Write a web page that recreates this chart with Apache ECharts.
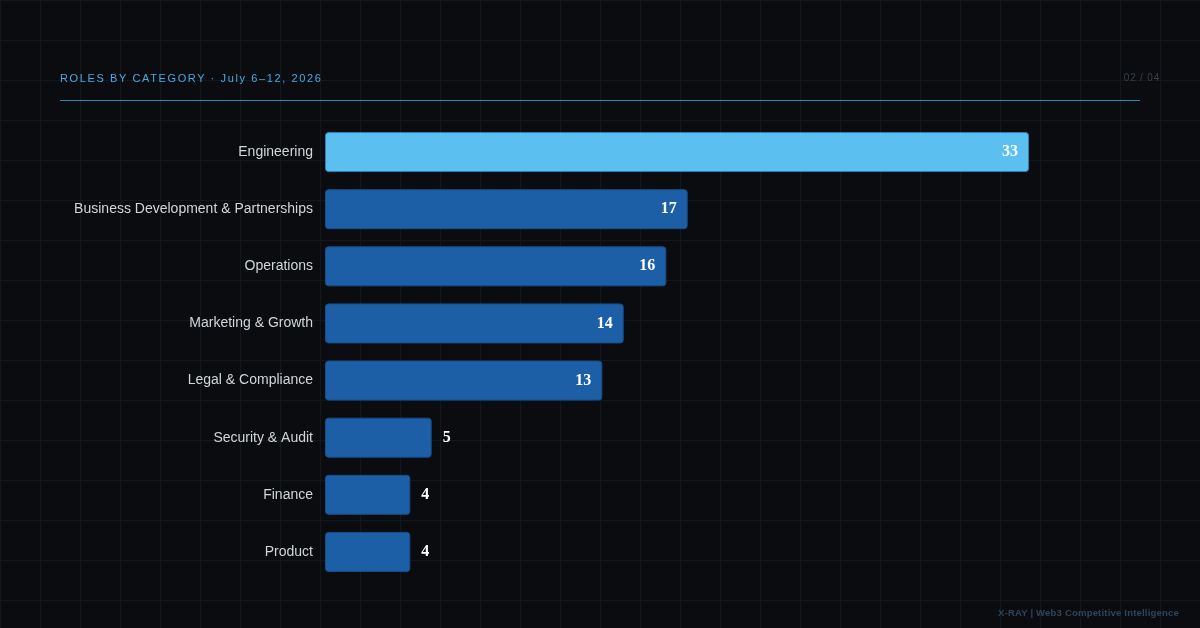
<!DOCTYPE html>
<html>
<head>
<meta charset="utf-8">
<script src="https://cdn.jsdelivr.net/npm/echarts@6/dist/echarts.min.js"></script>
<style>
  html, body { margin: 0; padding: 0; }
  body {
    width: 1200px; height: 628px; overflow: hidden;
    background-color: #0a0c0f;
    background-image:
      linear-gradient(to right, #14171b 1px, transparent 1px),
      linear-gradient(to bottom, #14171b 1px, transparent 1px);
    background-size: 40px 40px;
    background-position: 0 0;
    position: relative;
    font-family: "Liberation Sans", Arial, sans-serif;
  }
  #chart { position: absolute; left: 0; top: 0; width: 1200px; height: 628px; }
  .title { position: absolute; left: 60px; top: 72px; font-size: 11px; letter-spacing: 1.62px; color: #4aa9e2; white-space: nowrap; }
  .rule { position: absolute; left: 60px; top: 100px; width: 1080px; height: 1px; background: #2f88bd; }
  .page { position: absolute; right: 40px; top: 72px; font-size: 10px; letter-spacing: 0.8px; color: #3a4049; }
  .footer { position: absolute; right: 21px; top: 607px; font-size: 9.5px; font-weight: 600; letter-spacing: 0.2px; color: #30465c; white-space: nowrap; }
</style>
</head>
<body>
<div id="chart"></div>
<div class="title">ROLES BY CATEGORY · July 6–12, 2026</div>
<div class="rule"></div>
<div class="page">02 / 04</div>
<div class="footer">X-RAY | Web3 Competitive Intelligence</div>
<script>
const categories = ["Engineering", "Business Development & Partnerships", "Operations", "Marketing & Growth", "Legal & Compliance", "Security & Audit", "Finance", "Product"];
const values = [33, 17, 16, 14, 13, 5, 4, 4];

const chart = echarts.init(document.getElementById('chart'), null, { renderer: 'canvas' });

const data = values.map((v, i) => {
  const top = i === 0;
  const inside = v >= 10;
  return {
    value: v,
    itemStyle: {
      color: top ? '#5bbfef' : '#1c5fa7',
      borderColor: top ? '#2f7fb8' : '#174f8a',
      borderWidth: 1,
      borderRadius: 3
    },
    label: {
      position: inside ? 'insideRight' : 'right',
      distance: 11
    }
  };
});

chart.setOption({
  backgroundColor: 'transparent',
  animation: false,
  grid: { left: 325, right: 60, top: 123.5, bottom: 47.5, containLabel: false },
  xAxis: {
    type: 'value', min: 0, max: 38.2, show: false,
    splitLine: { show: false }
  },
  yAxis: {
    type: 'category', data: categories, inverse: true,
    axisLine: { show: false }, axisTick: { show: false },
    axisLabel: { color: '#d2d6da', fontSize: 14, margin: 12, fontFamily: 'Liberation Sans, Arial, sans-serif' }
  },
  series: [{
    type: 'bar',
    data: data,
    barWidth: 40,
    label: {
      show: true,
      color: '#ffffff',
      fontSize: 16,
      fontWeight: 'bold',
      fontFamily: 'Liberation Serif, "Times New Roman", serif'
    }
  }]
});
</script>
</body>
</html>
